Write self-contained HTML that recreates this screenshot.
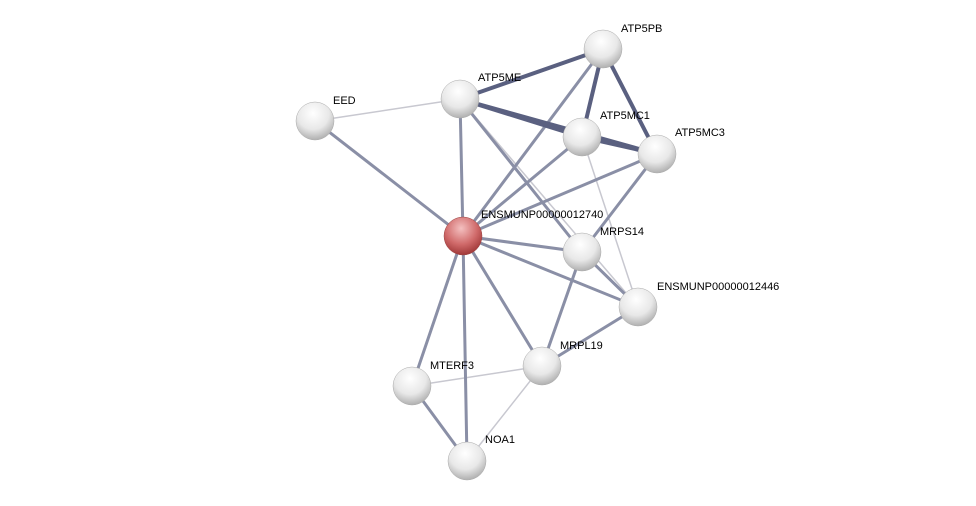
<!DOCTYPE html>
<html><head><meta charset="utf-8"><style>
html,body{margin:0;padding:0;background:#fff;width:976px;height:506px;overflow:hidden}
text{font-family:"Liberation Sans",sans-serif;font-size:11px;fill:#000}
</style></head><body>
<svg width="976" height="506" xmlns="http://www.w3.org/2000/svg">
<defs>
<radialGradient id="g" cx="0.45" cy="0.3" r="0.7">
<stop offset="0" stop-color="#ffffff"/><stop offset="0.6" stop-color="#e8e8e8"/><stop offset="1" stop-color="#b0b0b0"/>
</radialGradient>
<radialGradient id="r" cx="0.45" cy="0.3" r="0.7">
<stop offset="0" stop-color="#f4c0c0"/><stop offset="0.6" stop-color="#d06a6a"/><stop offset="1" stop-color="#a03838"/>
</radialGradient>
</defs>
<g stroke-linecap="round">
<g stroke="#c8c8d0" stroke-width="1.5">
<line x1="315" y1="121" x2="460" y2="99"/>
<line x1="460" y1="99" x2="638" y2="307"/>
<line x1="582" y1="137" x2="638" y2="307"/>
<line x1="542" y1="366" x2="412" y2="386"/>
<line x1="542" y1="366" x2="467" y2="461"/>
</g>
<g stroke="#8a8fa6" stroke-width="3">
<line x1="315" y1="121" x2="463" y2="236"/>
<line x1="460" y1="99" x2="463" y2="236"/>
<line x1="460" y1="99" x2="582" y2="252"/>
<line x1="603" y1="49" x2="463" y2="236"/>
<line x1="582" y1="137" x2="463" y2="236"/>
<line x1="657" y1="154" x2="463" y2="236"/>
<line x1="657" y1="154" x2="582" y2="252"/>
<line x1="463" y1="236" x2="582" y2="252"/>
<line x1="463" y1="236" x2="638" y2="307"/>
<line x1="463" y1="236" x2="542" y2="366"/>
<line x1="463" y1="236" x2="412" y2="386"/>
<line x1="463" y1="236" x2="467" y2="461"/>
<line x1="582" y1="252" x2="638" y2="307"/>
<line x1="582" y1="252" x2="542" y2="366"/>
<line x1="542" y1="366" x2="638" y2="307"/>
<line x1="412" y1="386" x2="467" y2="461"/>
</g>
<g stroke="#5a6080" stroke-width="4">
<line x1="460" y1="99" x2="603" y2="49"/>
<line x1="460" y1="99" x2="582" y2="137"/>
<line x1="460" y1="99" x2="657" y2="154"/>
<line x1="603" y1="49" x2="582" y2="137"/>
<line x1="603" y1="49" x2="657" y2="154"/>
<line x1="582" y1="137" x2="657" y2="154"/>
</g>
</g>
<g>
<circle cx="603" cy="49" r="19" fill="url(#g)" stroke="#aaa" stroke-width="0.5"/>
<circle cx="460" cy="99" r="19" fill="url(#g)" stroke="#aaa" stroke-width="0.5"/>
<circle cx="315" cy="121" r="19" fill="url(#g)" stroke="#aaa" stroke-width="0.5"/>
<circle cx="582" cy="137" r="19" fill="url(#g)" stroke="#aaa" stroke-width="0.5"/>
<circle cx="657" cy="154" r="19" fill="url(#g)" stroke="#aaa" stroke-width="0.5"/>
<circle cx="463" cy="236" r="19" fill="url(#r)" stroke="#944" stroke-width="0.5"/>
<circle cx="582" cy="252" r="19" fill="url(#g)" stroke="#aaa" stroke-width="0.5"/>
<circle cx="638" cy="307" r="19" fill="url(#g)" stroke="#aaa" stroke-width="0.5"/>
<circle cx="542" cy="366" r="19" fill="url(#g)" stroke="#aaa" stroke-width="0.5"/>
<circle cx="412" cy="386" r="19" fill="url(#g)" stroke="#aaa" stroke-width="0.5"/>
<circle cx="467" cy="461" r="19" fill="url(#g)" stroke="#aaa" stroke-width="0.5"/>
</g>
<text x="621" y="32">ATP5PB</text>
<text x="478" y="81">ATP5ME</text>
<text x="333" y="104">EED</text>
<text x="600" y="119">ATP5MC1</text>
<text x="675" y="136">ATP5MC3</text>
<text x="481" y="218">ENSMUNP00000012740</text>
<text x="600" y="235">MRPS14</text>
<text x="657" y="290">ENSMUNP00000012446</text>
<text x="560" y="349">MRPL19</text>
<text x="430" y="369">MTERF3</text>
<text x="485" y="443">NOA1</text>
</svg>
</body></html>
